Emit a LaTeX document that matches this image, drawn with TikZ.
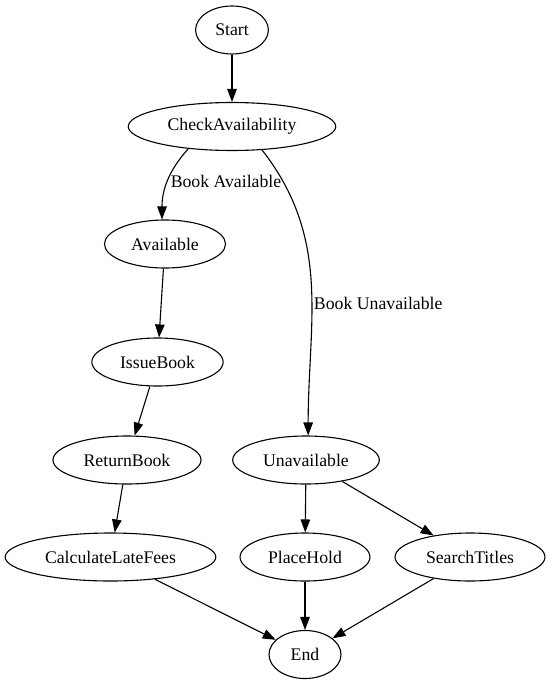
\documentclass[tikz,border=0pt]{standalone}
\usepackage{fontspec}
\setmainfont{Liberation Serif}
\usetikzlibrary{arrows.meta,shapes.geometric}
\tikzstyle{state} = [ellipse, draw, inner xsep=9bp, inner ysep=3bp,
    minimum width=72bp, minimum height=48bp]
\tikzstyle{lbl} = [inner sep=1.5bp]

\begin{document}
\begin{tikzpicture}[x=1bp, y=1bp, node distance=97bp, line width=1.1bp,
    >={Triangle[length=13bp,width=9.5bp]}, font=\fontsize{17.8}{20}\selectfont]
    \useasboundingbox (0,0) rectangle (552,-684);

    % Nodes
    \node [state] (start) at (232,-30) {Start};
    \node [state, below of=start, node distance=96.5bp] (check) {CheckAvailability};
    \node [state, below of=check, node distance=117.5bp, xshift=-67bp] (avail) {Available};
    \node [state, below of=avail, node distance=118bp, xshift=-7.5bp] (issue) {IssueBook};
    \node [state, below of=issue, node distance=98bp, xshift=-30.5bp] (return) {ReturnBook};
    \node [state, below of=return, xshift=-16.5bp] (fees) {CalculateLateFees};
    \node [state, below of=check, node distance=333.5bp, xshift=74bp] (unavail) {Unavailable};
    \node [state, below of=unavail, xshift=-1bp] (hold) {PlaceHold};
    \node [state, right of=hold, node distance=165bp] (search) {SearchTitles};
    \node [state, below of=hold, node distance=97.5bp] (end) {End};

    % Connections
    \draw [->] (start) -- (check);
    \draw [->] (check.207) to[out=228, in=90] node[lbl, right, pos=0.5, xshift=1bp] (lblyes) {Book Available} (avail.97);
    \draw [->] (check.-38) to[out=-52, in=90] node[lbl, right, pos=0.57] (lblno) {Book Unavailable} (unavail.85);
    \draw [->] (avail) -- (issue);
    \draw [->] (issue) -- (return);
    \draw [->] (return) -- (fees);
    \draw [->] (fees) -- (end);
    \draw [->] (unavail) -- (hold);
    \draw [->] (unavail) -- (search);
    \draw [->] (hold) -- (end);
    \draw [->] (search) -- (end);

\end{tikzpicture}
\end{document}
